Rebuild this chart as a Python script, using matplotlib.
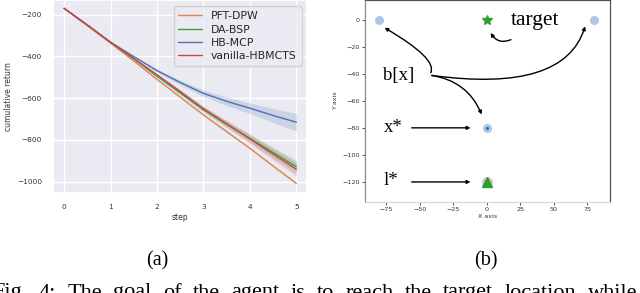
import numpy as np
import matplotlib.pyplot as plt
import seaborn as sns

# ── data: panel (a) ──────────────────────────────────────────────────────────
STEPS = [0, 0.5, 1, 1.5, 2, 2.5, 3, 3.5, 4, 4.5, 5]
SERIES = ["PFT-DPW", "DA-BSP", "HB-MCP", "vanilla-HBMCTS"]
PFT_DPW = [-170, -253, -336, -422, -510, -595, -680, -760, -840, -925, -1008]
DA_BSP = [-170, -250, -333, -412, -495, -575, -655, -725, -792, -860, -928]
HB_MCP = [-170, -250, -332, -401, -468, -525, -577, -615, -648, -683, -715]
VANILLA = [-170, -250, -333, -410, -488, -568, -650, -722, -795, -868, -940]
PFT_SD = [0, 1, 1, 2, 2, 3, 3, 4, 4, 5, 5]
DA_SD = [0, 1, 2, 4, 6, 9, 12, 15, 20, 25, 30]
HB_SD = [0, 1, 2, 4, 8, 11, 15, 20, 25, 33, 42]
VAN_SD = [0, 1, 2, 4, 6, 9, 13, 16, 21, 27, 33]

# ── data: panel (b) ──────────────────────────────────────────────────────────
BELIEF_X = [-80, 80, 0]
BELIEF_Y = [0, 0, -80]
TARGET = (0, 0)
LANDMARK = (0, -120)

CAPTION = "Fig. 4: The goal of the agent is to reach the target location while"

COLORS = ["#e0834e", "#3ca03c", "#4c72b0", "#d0454a"]

W, H = 640, 293
sns.set_theme(style="darkgrid")
fig = plt.figure(figsize=(W / 100, H / 100), dpi=100)


def px_axes(x0, x1, y0, y1):
    return fig.add_axes([x0 / W, 1 - y1 / H, (x1 - x0) / W, (y1 - y0) / H])


# ── (a) cumulative return ───────────────────────────────────────────────────
ax = px_axes(53, 307, 0, 193)
for name, ys, sd, c in zip(SERIES, [PFT_DPW, DA_BSP, HB_MCP, VANILLA],
                           [PFT_SD, DA_SD, HB_SD, VAN_SD], COLORS):
    ys, sd = np.array(ys), np.array(sd)
    ax.fill_between(STEPS, ys - sd, ys + sd, color=c, alpha=0.2, lw=0)
    ax.plot(STEPS, ys, color=c, lw=1.0, label=name)

ax.set_xlim(-0.24, 5.23)
ax.set_ylim(-1054, -130)
ax.set_yticks([-200, -400, -600, -800, -1000])
ax.set_xticks(range(6))
ax.tick_params(labelsize=5.3, pad=2, colors="#333333")
ax.set_xlabel("step", fontsize=5.5, labelpad=2, color="#333333")
ax.set_ylabel("cumulative return", fontsize=5.5, labelpad=3, color="#333333")
ax.legend(loc="upper right", fontsize=7.8, handlelength=2.2,
          borderpad=0.45, labelspacing=0.3, bbox_to_anchor=(1.0, 0.995))

# ── (b) scenario layout ─────────────────────────────────────────────────────
bx = px_axes(364.7, 610, 0, 201.7)
bx.set_facecolor("white")
bx.grid(False)
for side, col in [("left", "#8a8a8a"), ("bottom", "#d8d8d8"),
                  ("right", "#555555"), ("top", "#555555")]:
    bx.spines[side].set_visible(True)
    bx.spines[side].set_color(col)
    bx.spines[side].set_linewidth(0.9)

bx.plot(BELIEF_X, BELIEF_Y, "o", color="#aec7e8", ms=5.5, zorder=3)
bx.plot([BELIEF_X[2]], [BELIEF_Y[2]], "o", color="#1f77b4", ms=1.3, zorder=4)
bx.plot([TARGET[0]], [TARGET[1]], "*", color="#2ca02c", ms=7, zorder=3)
bx.plot([LANDMARK[0]], [LANDMARK[1]], "o", color="#d7c8d0", ms=7, zorder=3)
bx.plot([LANDMARK[0]], [LANDMARK[1]], "^", color="#2ca02c", ms=6.5, zorder=4)

bx.set_xlim(-91, 92)
bx.set_ylim(-134.6, 14.5)
bx.set_xticks([-75, -50, -25, 0, 25, 50, 75])
bx.set_yticks([0, -20, -40, -60, -80, -100, -120])
bx.tick_params(labelsize=4.6, length=2, width=0.6, pad=1.5,
               colors="#333333", left=True, bottom=True)
bx.set_xlabel("X axis", fontsize=4.6, labelpad=1.5, color="#333333")
bx.set_ylabel("Y axis", fontsize=4.6, labelpad=3, color="#333333")

serif = dict(family="Liberation Serif", color="black")
bx.text(18, -1, "target", fontsize=15.5, va="center", ha="left", **serif)
bx.text(-77, -41, "b[x]", fontsize=13.5, va="center", ha="left", **serif)
bx.text(-77, -80, "x*", fontsize=13.5, va="center", ha="left", **serif)
bx.text(-77, -119, "l*", fontsize=13.5, va="center", ha="left", **serif)

arr = dict(arrowstyle="-|>", color="black", lw=1.0, mutation_scale=5)
bx.annotate("", xy=(2, -8), xytext=(20, -14),
            arrowprops=dict(connectionstyle="arc3,rad=-0.5", **arr))
bx.annotate("", xy=(-78, -5), xytext=(-43, -41),
            arrowprops=dict(connectionstyle="angle3,angleA=45,angleB=-30", **arr))
bx.annotate("", xy=(74, -3), xytext=(-43, -41),
            arrowprops=dict(connectionstyle="angle3,angleA=-8,angleB=75", **arr))
bx.annotate("", xy=(-3, -72), xytext=(-43, -41),
            arrowprops=dict(connectionstyle="arc3,rad=-0.3", **arr))
bx.annotate("", xy=(-10, -80), xytext=(-58, -80), arrowprops=arr)
bx.annotate("", xy=(-10, -120), xytext=(-58, -120), arrowprops=arr)

# ── sub-captions + caption (justified line, cut at the bottom) ──────────────
fig.text(157 / W, 1 - 261 / H, "(a)", ha="center", va="center",
         fontsize=14.5, **serif)
fig.text(486 / W, 1 - 261 / H, "(b)", ha="center", va="center",
         fontsize=14.5, **serif)

renderer = fig.canvas.get_renderer()
words = [fig.text(0, 1 - 283.5 / H, w, ha="left", va="top", fontsize=16, **serif)
         for w in CAPTION.split()]
widths = [t.get_window_extent(renderer).width for t in words]
x_left, x_right = -8, 637
gap = (x_right - x_left - sum(widths)) / (len(words) - 1)
x = x_left
for t, w in zip(words, widths):
    t.set_x(x / W)
    x += w + gap

fig.savefig("out.png", dpi=100)
